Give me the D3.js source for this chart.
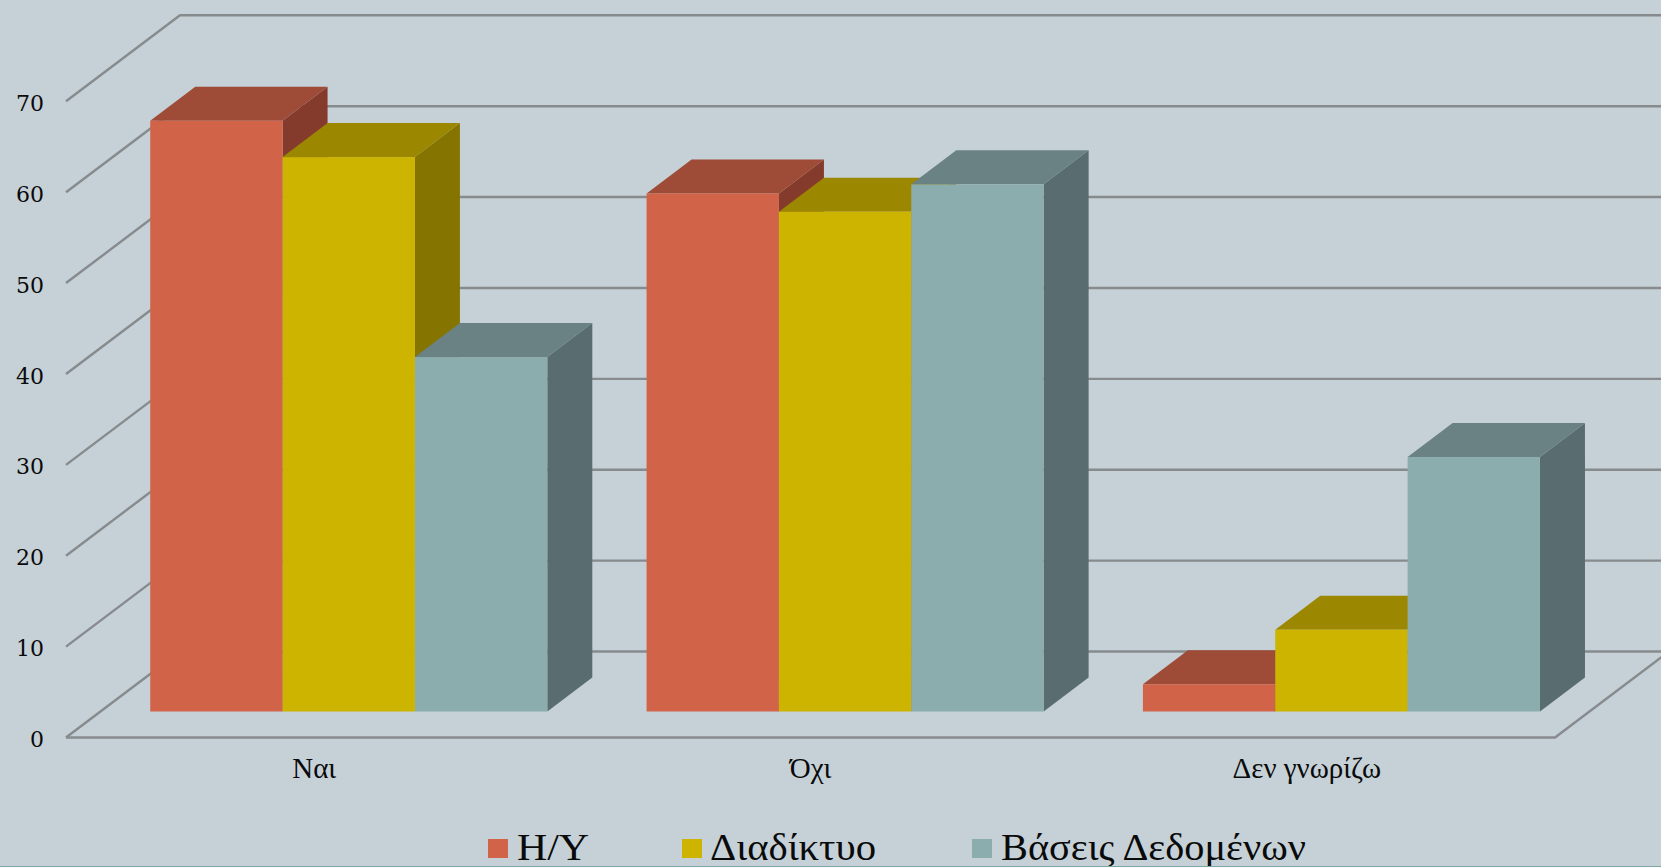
<!DOCTYPE html>
<html>
<head>
<meta charset="utf-8">
<script src="https://cdn.jsdelivr.net/npm/d3@7"></script>
<style>
  html, body { margin: 0; padding: 0; background: #c5d1d7; overflow: hidden; }
  svg { display: block; }
  text { font-family: "Liberation Serif", serif; fill: #0a0a0a; }
</style>
</head>
<body>
<div id="chart"></div>
<script>
// values
const categories = ['Ναι', 'Όχι', 'Δεν γνωρίζω']
const seriesNames = ['Η/Υ', 'Διαδίκτυο', 'Βάσεις Δεδομένων']
const hyValues = [65, 57, 3]
const internetValues = [61, 55, 9]
const dbValues = [39, 58, 28]
const yTicks = [0, 10, 20, 30, 40, 50, 60, 70]

const seriesValues = [hyValues, internetValues, dbValues]

// front, top, side
const seriesColors = [
  ['#d16349', '#9e4b37', '#843b2b'],
  ['#ccb400', '#9c8700', '#857500'],
  ['#8cadae', '#6a8283', '#596c70']
]

const width = 1661, height = 867
const floorLeft = 66, floorRight = 1555, floorY = 737.5
const depth = { x: 114, y: 86 }        // floor front edge to back wall
const barOffset = { x: 34.6, y: 26 }   // floor front edge to bar front
const barDepth = { x: 45, y: 34 }

const legendX = [488, 682, 972]
const legendTextX = [517, 710, 1001]
const legendTextW = [72, 166, 305]

const gridColor = '#878b8d'

const svg = d3.select('#chart').append('svg')
  .attr('width', width)
  .attr('height', height)

svg.append('rect')
  .attr('width', width)
  .attr('height', height)
  .attr('fill', '#c5d1d7')

// y maps a value to its height on the front plane of the floor
let y = d3.scaleLinear().domain([0, 70]).range([floorY, 101.3])

let x0 = d3.scaleBand()
  .domain(d3.range(categories.length))
  .range([floorLeft, floorRight])

let x1 = d3.scaleBand()
  .domain(d3.range(seriesNames.length))
  .range([0, x0.bandwidth()])
  .paddingOuter(0.375)
  .paddingInner(0)

// gridlines: diagonal on the side wall, then flat on the back wall
svg.append('g')
  .selectAll('path')
  .data(yTicks)
  .enter().append('path')
    .attr('d', d => {
      let line = d3.path()
      line.moveTo(floorLeft, y(d))
      line.lineTo(floorLeft + depth.x, y(d) - depth.y)
      line.lineTo(width, y(d) - depth.y)
      return line.toString()
    })
    .attr('fill', 'none')
    .attr('stroke', gridColor)
    .attr('stroke-width', 2.4)

// floor front edge and right side
let floor = d3.path()
floor.moveTo(floorLeft, floorY)
floor.lineTo(floorRight, floorY)
floor.lineTo(floorRight + depth.x, floorY - depth.y)
svg.append('path')
  .attr('d', floor.toString())
  .attr('fill', 'none')
  .attr('stroke', gridColor)
  .attr('stroke-width', 2.4)

// flat list of bars, painted left to right so later bars cover earlier sides
let bars = []
categories.forEach((c, i) => {
  seriesNames.forEach((s, j) => {
    bars.push({ cat: i, ser: j, value: seriesValues[j][i] })
  })
})

let poly = pts => 'M' + pts.map(p => p.join(',')).join('L') + 'Z'

let barGroups = svg.append('g')
  .selectAll('g')
  .data(bars)
  .enter().append('g')
    .each((d, i, e) => {
      let _this = d3.select(e[i])
      let left = x0(d.cat) + x1(d.ser) + barOffset.x
      let right = left + x1.bandwidth()
      let top = y(d.value) - barOffset.y
      let bottom = y(0) - barOffset.y
      let cols = seriesColors[d.ser]

      _this.append('path')
        .attr('d', poly([[right, top], [right + barDepth.x, top - barDepth.y],
          [right + barDepth.x, bottom - barDepth.y], [right, bottom]]))
        .attr('fill', cols[2])

      _this.append('path')
        .attr('d', poly([[left, top], [left + barDepth.x, top - barDepth.y],
          [right + barDepth.x, top - barDepth.y], [right, top]]))
        .attr('fill', cols[1])

      _this.append('rect')
        .attr('x', left)
        .attr('y', top)
        .attr('width', x1.bandwidth())
        .attr('height', bottom - top)
        .attr('fill', cols[0])
    })

// y axis labels
let yAxis = d3.axisLeft(y).tickValues(yTicks).tickSize(0).tickPadding(0)
let yG = svg.append('g')
  .attr('transform', 'translate(44,2)')
  .call(yAxis)
yG.select('.domain').remove()
yG.selectAll('text')
  .style('font-family', '"DejaVu Serif", serif')
  .style('font-size', '22px')
  .attr('fill', '#0a0a0a')

// category labels
svg.append('g')
  .selectAll('text')
  .data(categories)
  .enter().append('text')
    .attr('x', (d, i) => x0(i) + x0.bandwidth() / 2)
    .attr('y', 778)
    .attr('text-anchor', 'middle')
    .style('font-size', '29px')
    .text(d => d)

// legend
let legend = svg.append('g')
  .selectAll('g')
  .data(seriesNames)
  .enter().append('g')

legend.append('rect')
  .attr('x', (d, i) => legendX[i])
  .attr('y', 839)
  .attr('width', 20)
  .attr('height', 19)
  .attr('fill', (d, i) => seriesColors[i][0])

legend.append('text')
  .attr('x', (d, i) => legendTextX[i])
  .attr('y', 860)
  .attr('textLength', (d, i) => legendTextW[i])
  .attr('lengthAdjust', 'spacingAndGlyphs')
  .style('font-size', '37px')
  .text(d => d)

// thin line along the bottom edge
svg.append('rect')
  .attr('x', 0)
  .attr('y', 866)
  .attr('width', width)
  .attr('height', 1)
  .attr('fill', '#7fa6a6')
</script>
</body>
</html>
